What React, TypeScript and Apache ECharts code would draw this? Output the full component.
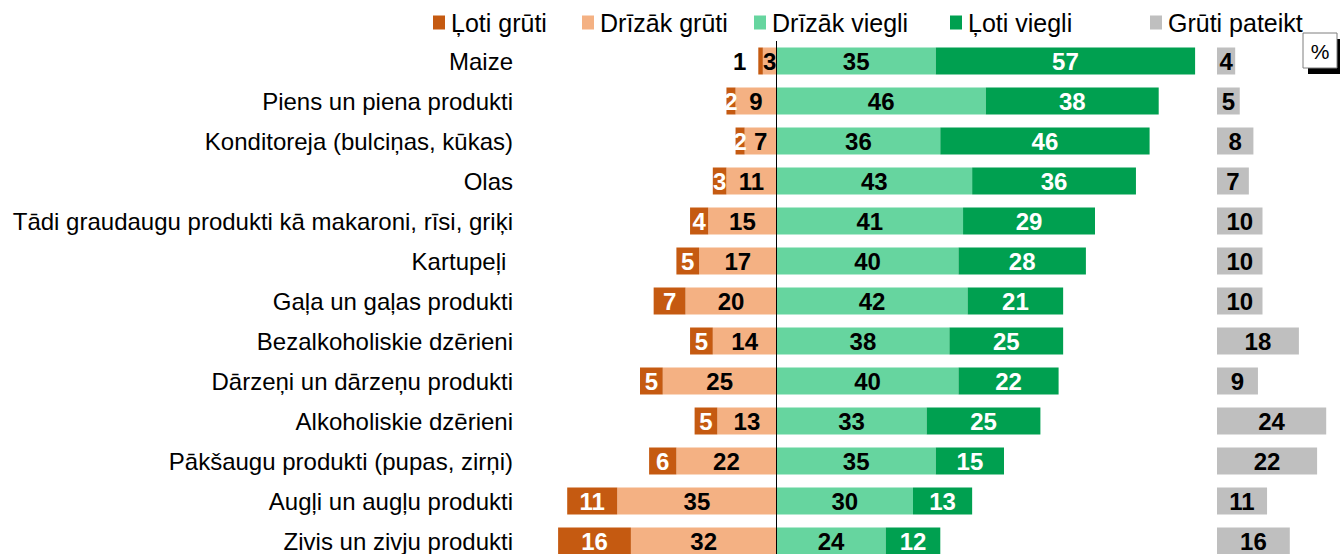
import React, { useEffect, useRef } from "react";
import * as echarts from "echarts";

const categories = [
  "Maize",
  "Piens un piena produkti",
  "Konditoreja (bulciņas, kūkas)",
  "Olas",
  "Tādi graudaugu produkti kā makaroni, rīsi, griķi",
  "Kartupeļi ",
  "Gaļa un gaļas produkti",
  "Bezalkoholiskie dzērieni",
  "Dārzeņi un dārzeņu produkti",
  "Alkoholiskie dzērieni",
  "Pākšaugu produkti (pupas, zirņi)",
  "Augļi un augļu produkti",
  "Zivis un zivju produkti",
];
const seriesNames = ["Ļoti grūti", "Drīzāk grūti", "Drīzāk viegli", "Ļoti viegli", "Grūti pateikt"];
const lotiGruti = [1, 2, 2, 3, 4, 5, 7, 5, 5, 5, 6, 11, 16];
const drizakGruti = [3, 9, 7, 11, 15, 17, 20, 14, 25, 13, 22, 35, 32];
const drizakViegli = [35, 46, 36, 43, 41, 40, 42, 38, 40, 33, 35, 30, 24];
const lotiViegli = [57, 38, 46, 36, 29, 28, 21, 25, 22, 25, 15, 13, 12];
const grutiPateikt = [4, 5, 8, 7, 10, 10, 10, 18, 9, 24, 22, 11, 16];

const colors = ["#C55A11", "#F4B183", "#66D59F", "#00A050", "#BFBFBF"];
const FONT = "'Liberation Sans', Arial, sans-serif";
const PX = 4.55;
const ZERO_X = 776.5;

export default function App() {
  const ref = useRef<HTMLDivElement>(null);
  useEffect(() => {
    if (!ref.current) return;
    const chart = echarts.init(ref.current, undefined, { renderer: "svg" });
    const labelBase = (color: string) => ({
      show: true,
      position: "inside",
      color,
      fontSize: 24,
      fontWeight: "bold",
      fontFamily: FONT,
      formatter: (p: any) => String(Math.abs(p.value)),
    });
    const barW = 27;
    const legendLefts = [428, 577, 749, 945, 1145];
    const legends = seriesNames.map((n, i) => ({
      data: [n],
      left: legendLefts[i],
      top: 5,
      icon: "rect",
      itemWidth: 12,
      itemHeight: 14,
      textStyle: { fontSize: 25, color: "#000", fontFamily: FONT, padding: [0, 0, 0, 1] },
      selectedMode: false,
    }));
    const minV = -50;
    const maxV = 95;
    const option: any = {
      animation: false,
      textStyle: { fontFamily: FONT },
      color: colors,
      legend: legends,
      grid: [
        { left: ZERO_X + minV * PX, top: 41, width: (maxV - minV) * PX, height: 520 },
        { left: 1217, top: 41, width: 26 * PX, height: 520 },
      ],
      xAxis: [
        { type: "value", gridIndex: 0, min: minV, max: maxV, show: false },
        { type: "value", gridIndex: 1, min: 0, max: 26, show: false },
      ],
      yAxis: [
        {
          type: "category",
          gridIndex: 0,
          data: categories,
          inverse: true,
          axisLine: { show: false, onZero: false },
          axisTick: { show: false },
          axisLabel: { fontSize: 24, color: "#000", margin: 36, fontFamily: FONT },
        },
        { type: "category", gridIndex: 1, data: categories, inverse: true, show: false },
      ],
      series: [
        {
          name: seriesNames[1],
          type: "bar",
          stack: "s",
          barWidth: barW,
          itemStyle: { color: colors[1] },
          label: labelBase("#000"),
          data: drizakGruti.map((v) => -v),
        },
        {
          name: seriesNames[0],
          type: "bar",
          stack: "s",
          barWidth: barW,
          itemStyle: { color: colors[0] },
          label: labelBase("#fff"),
          data: lotiGruti.map((v, i) =>
            i === 0
              ? { value: -v, label: { position: "left", color: "#000", distance: 12 } }
              : -v
          ),
        },
        {
          name: seriesNames[2],
          type: "bar",
          stack: "s",
          barWidth: barW,
          itemStyle: { color: colors[2] },
          label: labelBase("#000"),
          data: drizakViegli,
          markLine: {
            silent: true,
            symbol: ["none", "none"],
            label: { show: false },
            lineStyle: { color: "#000", width: 1, type: "solid" },
            data: [{ xAxis: 0 }],
          },
        },
        {
          name: seriesNames[3],
          type: "bar",
          stack: "s",
          barWidth: barW,
          itemStyle: { color: colors[3] },
          label: labelBase("#fff"),
          data: lotiViegli,
        },
        {
          name: seriesNames[4],
          type: "bar",
          xAxisIndex: 1,
          yAxisIndex: 1,
          barWidth: barW,
          itemStyle: { color: colors[4] },
          label: labelBase("#000"),
          data: grutiPateikt,
        },
      ],
      graphic: [
        { type: "rect", shape: { x: 1308, y: 39, width: 32, height: 35 }, style: { fill: "#000" } },
        {
          type: "rect",
          shape: { x: 1303, y: 33, width: 34, height: 35 },
          style: { fill: "#fff", stroke: "#7f7f7f", lineWidth: 1 },
        },
        {
          type: "text",
          x: 1320,
          y: 51,
          style: { text: "%", fontSize: 21, fill: "#000", fontFamily: FONT, align: "center", verticalAlign: "middle" },
        },
      ],
    };
    chart.setOption(option);
    return () => chart.dispose();
  }, []);
  return (
    <div style={{ position: "absolute", left: 0, top: 0, width: 1340, height: 554, overflow: "hidden" }}>
      <div ref={ref} style={{ width: 1340, height: 570 }} />
    </div>
  );
}
